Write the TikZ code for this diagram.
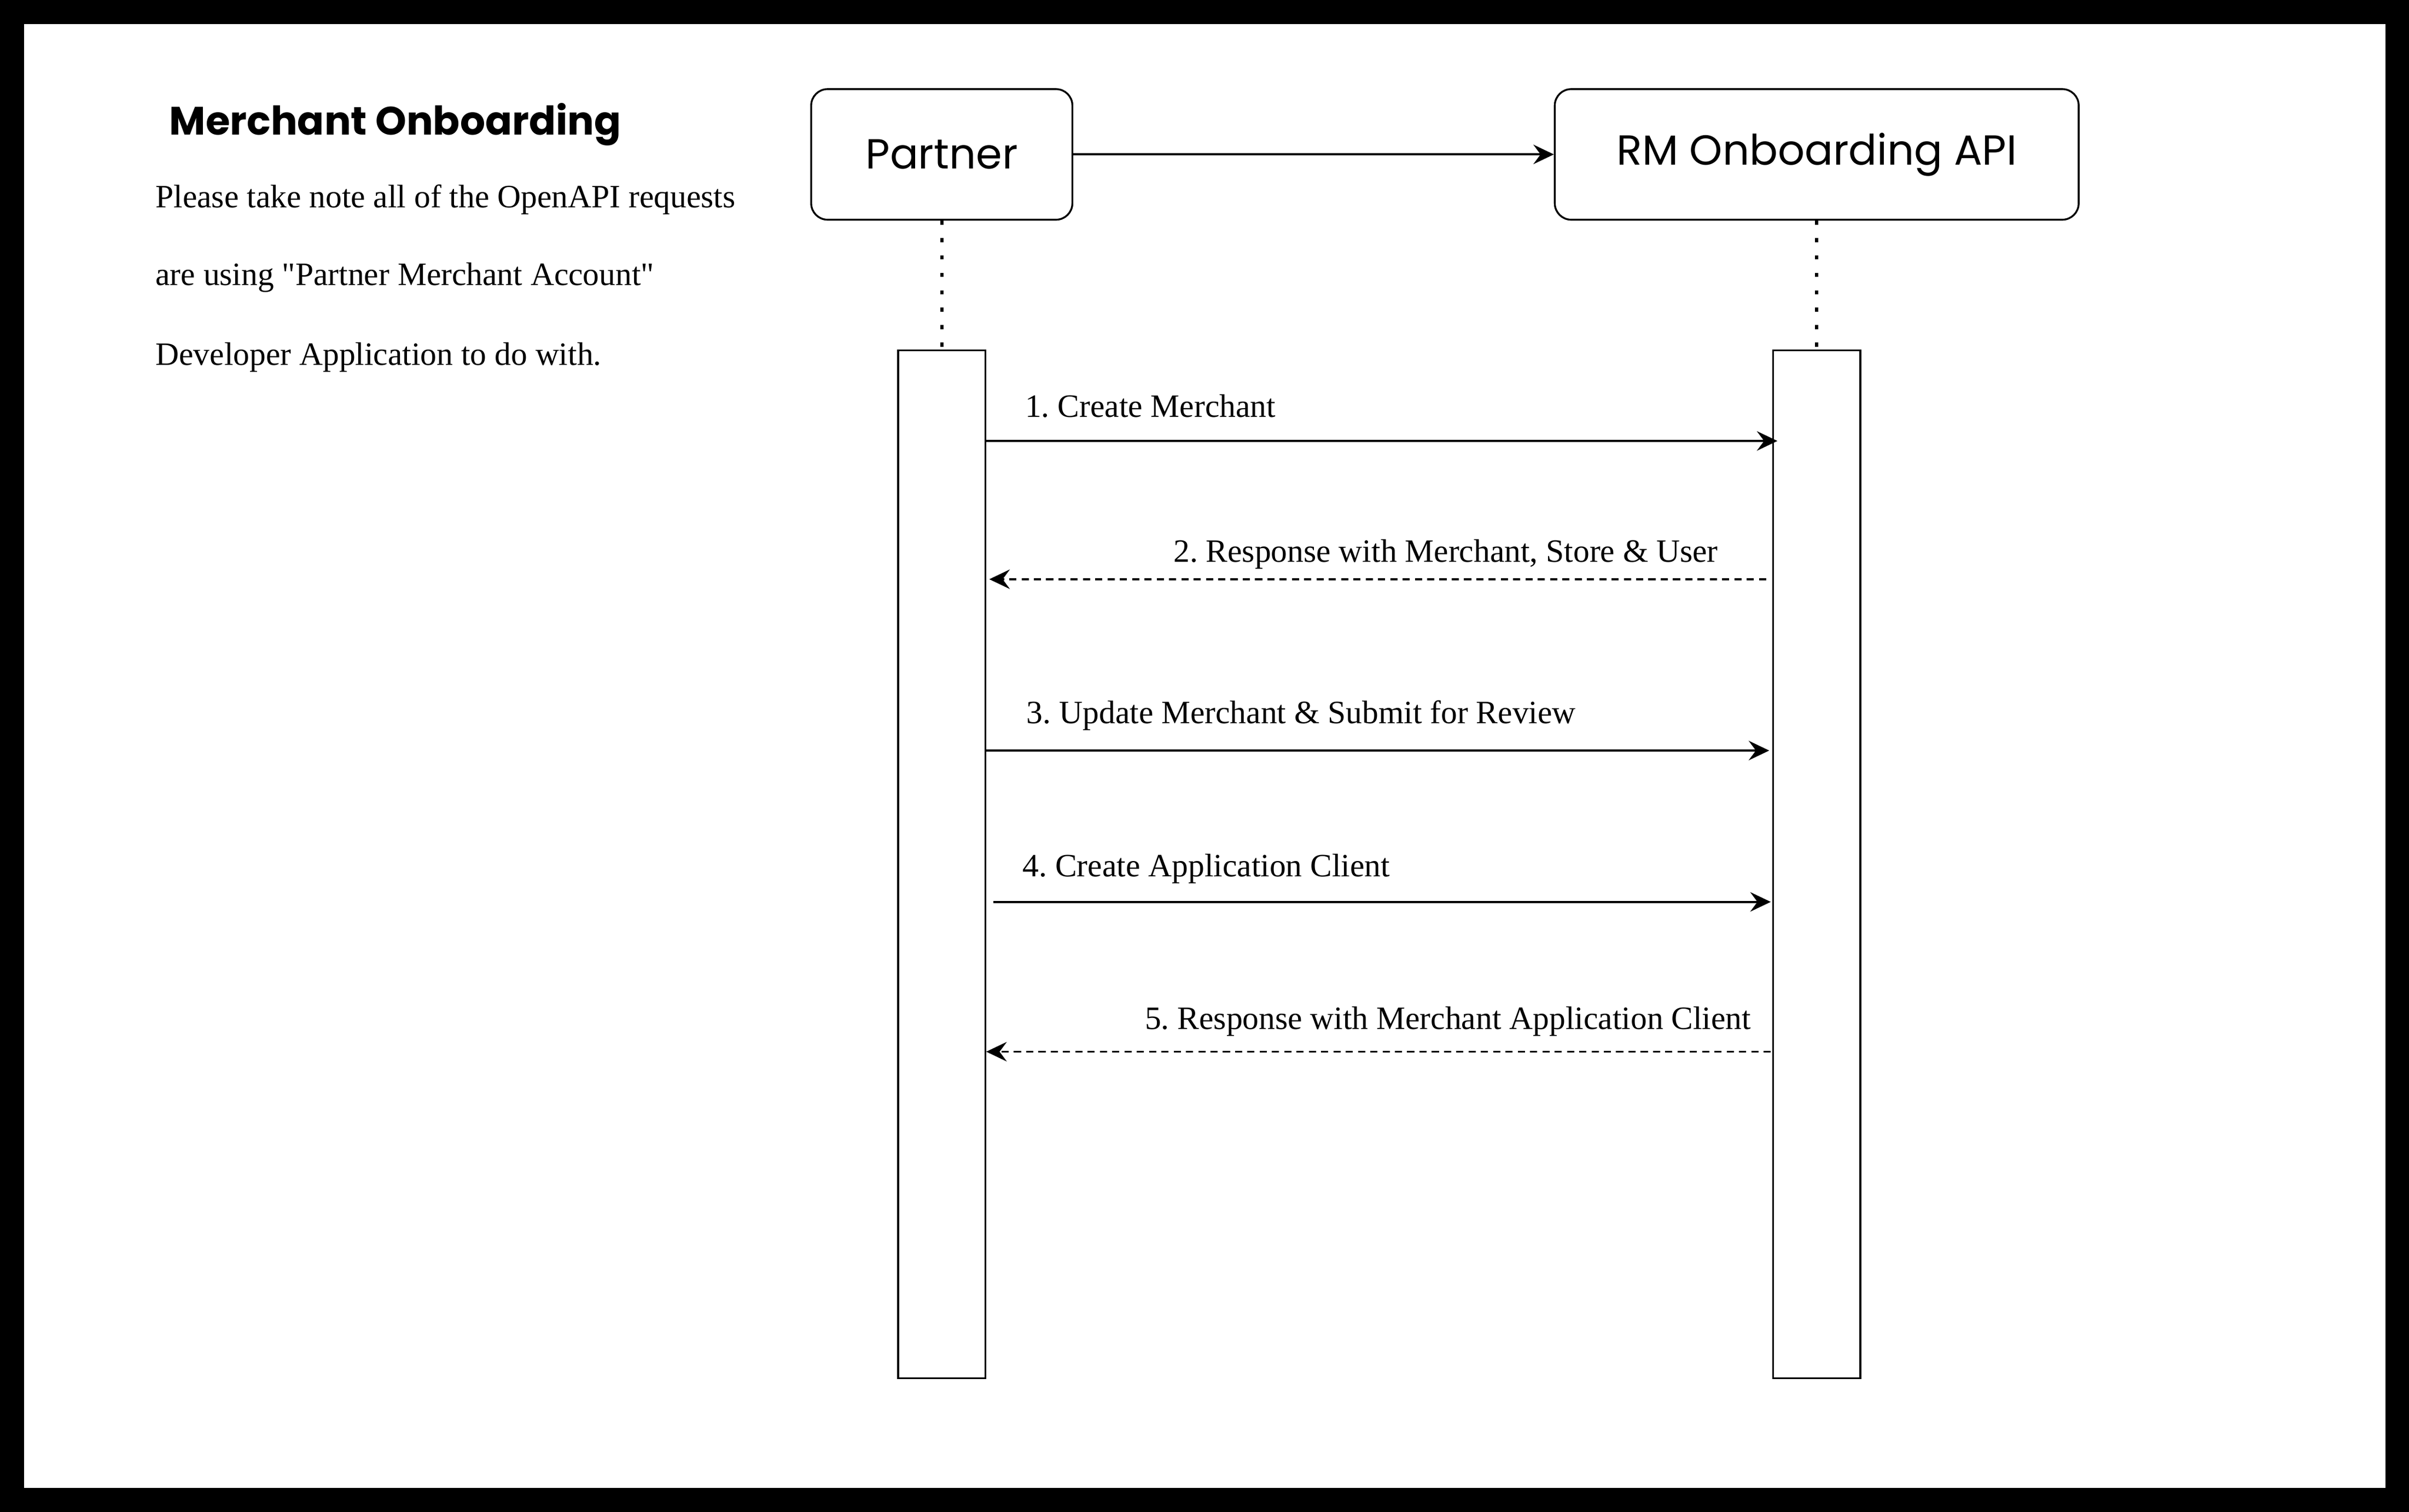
\documentclass[tikz,border=0pt]{standalone}
\usepackage{fontspec}
\setmainfont{Liberation Serif}[Ligatures=TeXOff]
\newfontfamily\comicfont{Poppins}
\usetikzlibrary{arrows.meta}
\frenchspacing

\tikzset{
  actor/.style={draw, line width=0.9pt, rounded corners=8pt, font=\comicfont\fontsize{20.5}{24}\selectfont},
  activation/.style={draw, line width=0.9pt, fill=white, minimum width=42.5pt, minimum height=501.75pt, inner sep=0pt},
  lifeline/.style={line width=1.6pt, dash pattern=on 2pt off 6.5pt},
  msg/.style={line width=1pt, -{Stealth[length=10pt, width=9.5pt, inset=3.5pt]}},
  reply/.style={msg, dash pattern=on 3.5pt off 2.5pt},
  msglabel/.style={inner sep=0pt, font=\fontsize{15.9}{19}\selectfont},
}

\begin{document}
\begin{tikzpicture}[x=0.75pt,y=0.75pt,yscale=-1,xscale=1]
% frame
\fill[black] (0,0) rectangle (1568,984);
\fill[white] (15.5,15.5) rectangle (1552.5,968.5);
\useasboundingbox (0,0) rectangle (1568,984);

% Title and note
\node (title) [anchor=base west, inner sep=0pt, font=\comicfont\bfseries\fontsize{19.3}{23}\selectfont] at (110,87.7) {Merchant Onboarding};
\node (note1) [msglabel, anchor=base west] at (101,135) {Please take note all of the OpenAPI requests};
\node (note2) [msglabel, anchor=base west] at (101,185.6) {are using "Partner Merchant Account"};
\node (note3) [msglabel, anchor=base west] at (101,237.6) {Developer Application to do with.};

% Actors
\node (partner) [actor, minimum width=127.5pt, minimum height=63.75pt] at (613,100.5) {\raisebox{-1.5pt}{Partner}};
\node (rmapi) [actor, minimum width=255.75pt, minimum height=63.75pt] at (1182.5,100.5) {\raisebox{-1.5pt}{RM Onboarding API}};
\draw [msg] (partner) -- (rmapi);

% Activation bars
\node (pact) [activation] at (613,562.5) {};
\node (ract) [activation] at (1182.5,562.5) {};
\draw [lifeline] (partner.south) -- (pact.north);
\draw [lifeline] (rmapi.south) -- (ract.north);

% Messages
\coordinate (m1) at (0,287);
\coordinate (m2) at (0,377);
\coordinate (m3) at (0,488.5);
\coordinate (m4) at (0,587);
\coordinate (m5) at (0,684.5);

\draw [msg] (pact.east |- m1) -- ([xshift=2.5pt]ract.west |- m1);
\draw [reply] ([xshift=-3pt]ract.west |- m2) -- ([xshift=1.5pt]pact.east |- m2);
\draw [msg] (pact.east |- m3) -- ([xshift=-1.5pt]ract.west |- m3);
\draw [msg] ([xshift=3.5pt]pact.east |- m4) -- ([xshift=-0.75pt]ract.west |- m4);
\draw [reply] ([xshift=-0.75pt]ract.west |- m5) -- (pact.east |- m5);

% Text Node
\node (l1) [msglabel, anchor=base west] at (667,271.6) {1. Create Merchant};
\node (l2) [msglabel, anchor=base east] at (1118.5,366) {2. Response with Merchant, Store \& User};
\node (l3) [msglabel, anchor=base west] at (668,470.7) {3. Update Merchant \& Submit for Review};
\node (l4) [msglabel, anchor=base west] at (665.4,570.7) {4. Create Application Client};
\node (l5) [msglabel, anchor=base east] at (1140,670) {5. Response with Merchant Application Client};

\end{tikzpicture}
\end{document}
